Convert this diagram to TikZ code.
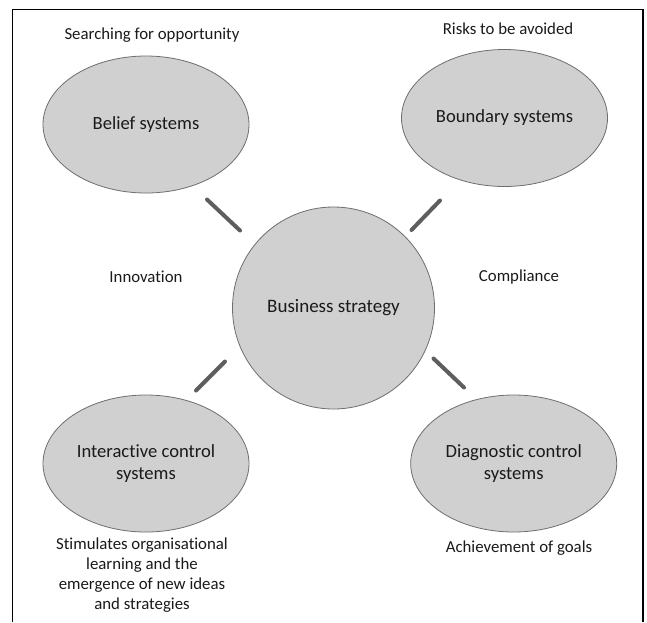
\documentclass[tikz,border=0pt]{standalone}
\usepackage{fontspec}
\setmainfont{Carlito}[Ligatures={NoCommon}]
\usetikzlibrary{shapes.geometric}
\definecolor{fillgray}{HTML}{D0D0D0}
\definecolor{edgegray}{HTML}{6E6E6E}
\definecolor{tickgray}{HTML}{5E5E5E}
\definecolor{txt}{HTML}{1A1A1A}
\tikzset{
  oval/.style={ellipse, draw=edgegray, line width=0.8pt, fill=fillgray, minimum width=206pt, minimum height=137pt, inner sep=0pt, align=center, font=\fontsize{18.6}{22.3}\selectfont, text=txt},
  hub/.style={circle, draw=edgegray, line width=0.8pt, fill=fillgray, minimum size=202pt, inner sep=0pt, font=\fontsize{19}{22}\selectfont, text=txt},
  lbl/.style={align=center, font=\fontsize{16.8}{20}\selectfont, text=txt, inner sep=0pt},
  tick/.style={draw=tickgray, line width=4pt, line cap=round}
}
\begin{document}
\begin{tikzpicture}[x=1pt,y=-1pt]
\useasboundingbox (0,0) rectangle (647,622);
\fill[white] (0,0) rectangle (647,622);
\draw[line width=1.5pt, black] (12.5,622) -- (12.5,9.5) -- (643,9.5) -- (643,622);

\node[hub] (bs) at (333.5,308) {Business strategy};
\node[oval] (belief) at (146,124.5) {Belief systems};
\node[oval] (boundary) at (504.5,118) {Boundary systems};
\node[oval] (inter) at (146,463.5) {Interactive control\\systems};
\node[oval] (diag) at (513.7,463.5) {Diagnostic control\\systems};

\node[lbl] (l1) at (152,35) {Searching for opportunity};
\node[lbl] (l2) at (508,29) {Risks to be avoided};
\node[lbl] (l3) at (146,277) {Innovation};
\node[lbl] (l4) at (519,277) {Compliance};
\node[lbl] (l5) at (142,575) {Stimulates organisational\\learning and the\\emergence of new ideas\\and strategies};
\node[lbl] (l6) at (519,548) {Achievement of goals};

\coordinate (t1a) at (207,199.5); \coordinate (t1b) at (240,230.5);
\coordinate (t2a) at (440,200.5); \coordinate (t2b) at (411.5,230);
\coordinate (t3a) at (225,361.5); \coordinate (t3b) at (196,390.5);
\coordinate (t4a) at (433.5,358.5); \coordinate (t4b) at (464,387.5);
\draw[tick] (t1a) -- (t1b);
\draw[tick] (t2a) -- (t2b);
\draw[tick] (t3a) -- (t3b);
\draw[tick] (t4a) -- (t4b);
\end{tikzpicture}
\end{document}
